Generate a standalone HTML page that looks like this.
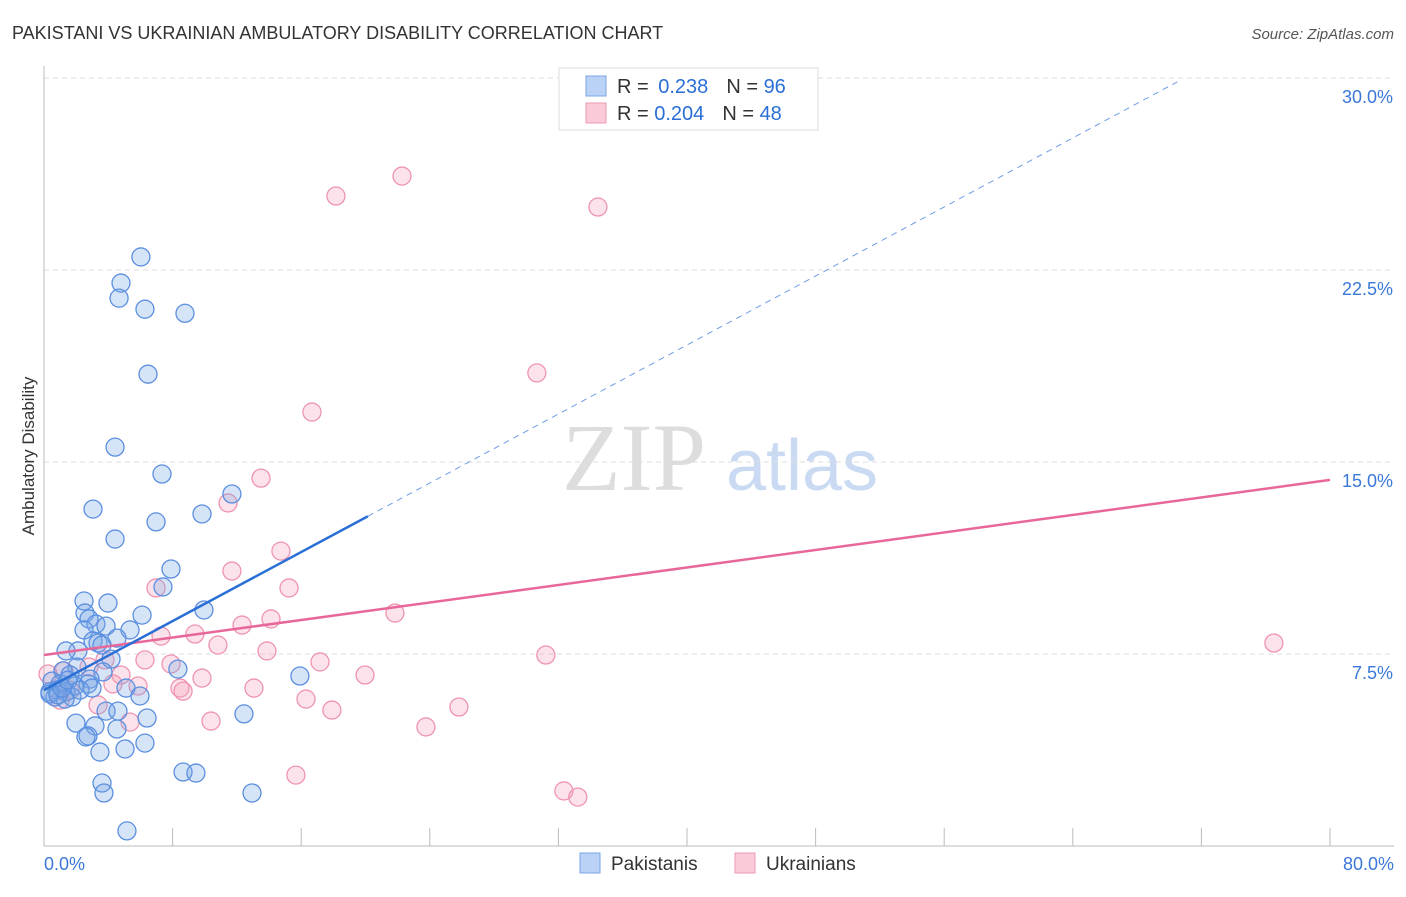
<!DOCTYPE html>
<html><head><meta charset="utf-8"><style>
body{margin:0;background:#fff;font-family:"Liberation Sans",sans-serif}
</style></head><body>
<svg id="c" width="1406" height="892" xmlns="http://www.w3.org/2000/svg">
<text x="12" y="39" font-size="18" fill="#333">PAKISTANI VS UKRAINIAN AMBULATORY DISABILITY CORRELATION CHART</text>
<text x="1394" y="39" font-size="15" fill="#555" font-style="italic" text-anchor="end">Source: ZipAtlas.com</text>
<text x="0" y="0" transform="translate(34,456) rotate(-90)" font-size="17" fill="#333" text-anchor="middle">Ambulatory Disability</text>
<g><text x="634" y="490" font-size="96" font-family="Liberation Serif,serif" fill="#ddd" text-anchor="middle">ZIP</text><text x="802" y="490" font-size="72" fill="#c9daf2" text-anchor="middle">atlas</text></g>
<g id="grid"></g><g id="axes"></g><g id="pts"></g><g id="lines"></g>
<g>
<rect x="559" y="68" width="259" height="62" fill="#fff" stroke="#ddd"/>
<rect x="586" y="76" width="20" height="20" fill="#b9d2f6" stroke="#7aa4e4"/>
<rect x="586" y="103" width="20" height="20" fill="#fbcad9" stroke="#ee9ab5"/>
<text x="617" y="93" font-size="20" fill="#333">R = <tspan fill="#2a6fd6" dx="4">0.238</tspan><tspan dx="18" fill="#333">N = </tspan><tspan fill="#2a6fd6">96</tspan></text>
<text x="617" y="120" font-size="20" fill="#333">R = <tspan fill="#2a6fd6">0.204</tspan><tspan dx="18" fill="#333">N = </tspan><tspan fill="#2a6fd6">48</tspan></text>
</g>
<g>
<rect x="580" y="853" width="20" height="20" fill="#b9d2f6" stroke="#7aa4e4"/>
<text x="611" y="870" font-size="19" fill="#333">Pakistanis</text>
<rect x="735" y="853" width="20" height="20" fill="#fbcad9" stroke="#ee9ab5"/>
<text x="766" y="870" font-size="19" fill="#333">Ukrainians</text>
</g>
</svg>
<script>
const yTicks=[7.5,15,22.5,30];
const yTickLabels=["7.5%","15.0%","22.5%","30.0%"];
const xEndLabels=["0.0%","80.0%"];
const pakX=[6.03,4.79,4.67,6.28,8.77,6.47,4.42,7.34,11.69,3.05,9.83,6.97,4.42,7.90,7.40,2.49,3.98,6.10,9.95,2.55,2.80,3.23,3.86,5.35,2.49,4.54,3.05,3.36,3.61,2.11,1.37,4.17,2.05,1.18,3.67,8.33,15.92,1.62,2.86,0.50,1.00,1.93,2.74,0.81,0.37,1.37,5.10,5.97,0.68,1.74,1.31,3.86,4.60,6.41,12.44,1.99,3.17,4.54,2.74,2.61,6.28,5.04,3.48,8.65,9.45,3.61,3.73,12.94,5.16,0.37,0.87,1.12,1.49,2.24,2.99];
const pakY=[23.01,21.99,21.40,20.97,20.81,18.43,15.58,14.53,13.75,13.16,12.97,12.66,11.99,10.82,10.12,9.57,9.49,9.02,9.22,9.10,8.87,8.67,8.59,8.44,8.44,8.12,8.01,7.93,7.85,7.62,7.62,7.30,6.99,6.84,6.80,6.91,6.64,6.68,6.52,6.44,6.33,6.25,6.33,6.09,6.02,6.02,6.17,5.86,5.82,5.82,5.74,5.27,5.27,5.00,5.16,4.80,4.69,4.57,4.30,4.26,4.02,3.79,3.67,2.89,2.85,2.46,2.07,2.07,0.59,5.94,5.90,6.17,6.48,6.09,6.17];
const ukrX=[22.27,18.16,34.46,30.66,16.67,13.50,11.45,14.74,11.69,15.24,6.97,21.83,14.12,12.32,7.28,9.39,10.82,13.87,76.51,31.22,6.28,7.90,17.17,2.80,3.79,19.97,9.83,4.79,8.46,8.65,4.29,13.06,5.85,16.30,1.24,25.81,17.91,3.36,10.39,5.35,23.76,15.67,32.34,33.21,0.25,1.62,1.00];
const ukrY=[26.17,25.39,24.96,18.48,16.95,14.37,13.40,11.52,10.74,10.08,10.08,9.10,8.87,8.63,8.20,8.28,7.85,7.62,7.93,7.46,7.27,7.11,7.19,6.99,7.27,6.68,6.56,6.68,6.17,6.05,6.33,6.17,6.25,5.74,6.84,5.43,5.31,5.51,4.88,4.84,4.65,2.77,2.15,1.91,6.72,6.09,5.70];
const pakTrend=[6.09,0.337,20.15,70.5]; // intercept, slope, solid end, dashed end
const ukrTrend=[7.46,0.0855,80];
const NS='http://www.w3.org/2000/svg';
const sx=v=>44+v/80*1286, sy=v=>846-v/7.5*192;
function mk(t,a,p){const e=document.createElementNS(NS,t);for(const k in a)e.setAttribute(k,a[k]);document.getElementById(p).appendChild(e);return e;}
yTicks.forEach((t,i)=>{
 const l=mk('line',{x1:44,x2:1394,y1:sy(t),y2:sy(t),stroke:'#ddd','stroke-dasharray':'5,4'},'grid');
 
 
 const tx=mk('text',{x:1393,y:sy(t)+25,'font-size':18,fill:'#3b78d8','text-anchor':'end'},'axes');
 tx.textContent=yTickLabels[i];
 
 
});
let ax=mk('line',{x1:44,x2:44,y1:66,y2:846,stroke:'#bbb'},'axes');


ax=mk('line',{x1:44,x2:1394,y1:846,y2:846,stroke:'#bbb'},'axes');


for(let i=0;i<=10;i++){const t=mk('line',{x1:sx(i*8),x2:sx(i*8),y1:828,y2:846,stroke:'#bbb'},'axes');
 
 }
[[0,'start',44],[80,'end',1394]].forEach((d,i)=>{const t=mk('text',{x:d[2],y:870,'font-size':18,fill:'#3b78d8','text-anchor':d[1]},'axes');t.textContent=xEndLabels[i];
 
 });
function pts(X,Y,f,s,n){X.forEach((x,i)=>{const c=mk('circle',{cx:sx(x),cy:sy(Y[i]),r:9,fill:f,stroke:s,'stroke-width':1.3},'pts');
 
 });}
pts(ukrX,ukrY,'rgba(245,160,185,0.3)','#ee94b1','ukrainian-point');
pts(pakX,pakY,'rgba(120,165,230,0.3)','#5b8fe0','pakistani-point');
let L=mk('line',{x1:sx(0),y1:sy(ukrTrend[0]),x2:sx(ukrTrend[2]),y2:sy(ukrTrend[0]+ukrTrend[1]*ukrTrend[2]),stroke:'#e8679a','stroke-width':2.5},'lines');


L=mk('line',{x1:sx(0),y1:sy(pakTrend[0]),x2:sx(pakTrend[2]),y2:sy(pakTrend[0]+pakTrend[1]*pakTrend[2]),stroke:'#2a6fd6','stroke-width':2.5},'lines');


L=mk('line',{x1:sx(pakTrend[2]),y1:sy(pakTrend[0]+pakTrend[1]*pakTrend[2]),x2:sx(pakTrend[3]),y2:sy(pakTrend[0]+pakTrend[1]*pakTrend[3]),stroke:'#6d9de6','stroke-width':1,'stroke-dasharray':'6,5'},'lines');


</script>
</body></html>
